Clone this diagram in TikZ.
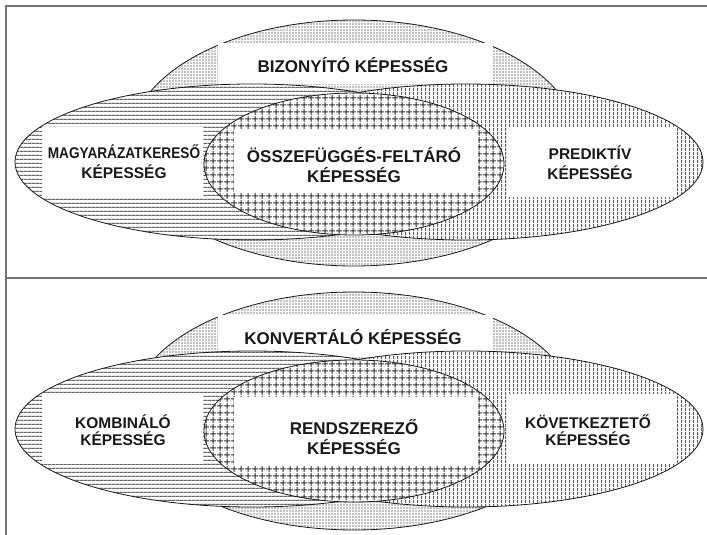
\documentclass[tikz,border=0pt]{standalone}
\usepackage{fontspec}
\setmainfont{Liberation Sans}
\usepackage{graphicx}
\usetikzlibrary{patterns}

\pgfdeclarepatternformonly{hlinesP}{\pgfqpoint{0pt}{0pt}}{\pgfqpoint{4.2pt}{4.2pt}}{\pgfqpoint{4.2pt}{4.2pt}}{%
  \pgfsetlinewidth{1pt}\pgfpathmoveto{\pgfqpoint{0pt}{2.1pt}}\pgfpathlineto{\pgfqpoint{4.2pt}{2.1pt}}\pgfusepath{stroke}}
\pgfdeclarepatternformonly{vlinesP}{\pgfqpoint{0pt}{0pt}}{\pgfqpoint{4pt}{4pt}}{\pgfqpoint{4pt}{4pt}}{%
  \pgfsetlinewidth{1.3pt}\pgfpathmoveto{\pgfqpoint{2pt}{0pt}}\pgfpathlineto{\pgfqpoint{2pt}{4pt}}\pgfusepath{stroke}}
\pgfdeclarepatternformonly{gridP}{\pgfqpoint{0pt}{0pt}}{\pgfqpoint{7pt}{7pt}}{\pgfqpoint{7pt}{7pt}}{%
  \pgfsetlinewidth{1.1pt}\pgfpathmoveto{\pgfqpoint{3.5pt}{0pt}}\pgfpathlineto{\pgfqpoint{3.5pt}{7pt}}%
  \pgfpathmoveto{\pgfqpoint{0pt}{3.5pt}}\pgfpathlineto{\pgfqpoint{7pt}{3.5pt}}\pgfusepath{stroke}}
\pgfdeclarepatternformonly{fineP}{\pgfqpoint{0pt}{0pt}}{\pgfqpoint{2.5pt}{2.5pt}}{\pgfqpoint{2.5pt}{2.5pt}}{%
  \pgfsetlinewidth{0.9pt}\pgfpathmoveto{\pgfqpoint{1.25pt}{0pt}}\pgfpathlineto{\pgfqpoint{1.25pt}{2.5pt}}\pgfusepath{stroke}%
  \pgfsetlinewidth{0.35pt}\pgfpathmoveto{\pgfqpoint{0pt}{1.25pt}}\pgfpathlineto{\pgfqpoint{2.5pt}{1.25pt}}\pgfusepath{stroke}}

\tikzset{
  frameline/.style={draw=black!55, line width=1.6pt},
  outl/.style={draw=black!90, line width=0.8pt},
  topell/.style={outl, preaction={fill=white}, pattern=fineP, pattern color=black!55},
  leftell/.style={outl, preaction={fill=white}, pattern=hlinesP, pattern color=black!90},
  rightell/.style={outl, preaction={fill=white}, pattern=vlinesP, pattern color=black!62},
  midell/.style={outl, preaction={fill=white}, pattern=gridP, pattern color=black!80},
  wbox/.style={fill=white, draw=none},
  bigtxt/.style={font=\bfseries\fontsize{17}{20}\selectfont, align=center, text=black!90, inner sep=0pt},
  smalltxt/.style={font=\bfseries\fontsize{15.5}{20}\selectfont, align=center, text=black!90, inner sep=0pt},
  smalltxtb/.style={font=\bfseries\fontsize{15.5}{17.5}\selectfont, align=center, text=black!90, inner sep=0pt}
}

\begin{document}
\begin{tikzpicture}[x=1pt, y=-1pt]
\useasboundingbox (0,0) rectangle (707,535);
\fill[white] (0,0) rectangle (707,535);

% ---------- top panel ----------
\path[topell] (354,143) ellipse [x radius=224pt, y radius=123pt];
\fill[wbox] (218,43) rectangle (493,84);
\path[leftell] (252,162) ellipse [x radius=237pt, y radius=78pt];
\path[rightell] (466,162) ellipse [x radius=237pt, y radius=78pt];
\fill[wbox] (42,127) rectangle (203,197);
\fill[wbox] (508,127) rectangle (675,197);
\path[midell] (354,164) ellipse [x radius=150pt, y radius=71pt];
\fill[wbox] (234,130) rectangle (478,193);

\node[bigtxt] (biz) at (353,65) {BIZONYÍTÓ KÉPESSÉG};
\node[smalltxt] (magy) at (124,162) {\scalebox{0.88}[1]{MAGYARÁZATKERESŐ}\\KÉPESSÉG};
\node[bigtxt] (ossz) at (354,165) {ÖSSZEFÜGGÉS-FELTÁRÓ\\KÉPESSÉG};
\node[smalltxt] (pred) at (590,163) {PREDIKTÍV\\KÉPESSÉG};

% ---------- bottom panel ----------
\begin{scope}[yshift=-267pt]
\path[topell] (354,144) ellipse [x radius=222pt, y radius=119pt];
\fill[wbox] (218,48) rectangle (493,90);
\path[leftell] (252,162) ellipse [x radius=237pt, y radius=78pt];
\path[rightell] (466,162) ellipse [x radius=237pt, y radius=78pt];
\fill[wbox] (42,127) rectangle (203,197);
\fill[wbox] (508,127) rectangle (675,197);
\path[midell] (354,164) ellipse [x radius=150pt, y radius=71pt];
\fill[wbox] (234,130) rectangle (478,199);

\node[bigtxt] (konv) at (353,70) {KONVERTÁLÓ KÉPESSÉG};
\node[smalltxtb] (komb) at (123,163) {KOMBINÁLÓ\\KÉPESSÉG};
\node[bigtxt] (rend) at (354,170) {RENDSZEREZŐ\\KÉPESSÉG};
\node[smalltxtb] (kovet) at (588,163) {KÖVETKEZTETŐ\\KÉPESSÉG};
\end{scope}

% ---------- frame ----------
\draw[frameline] (6,535) -- (6,6) -- (707,6);
\draw[frameline] (6,278) -- (707,278);
\end{tikzpicture}
\end{document}
